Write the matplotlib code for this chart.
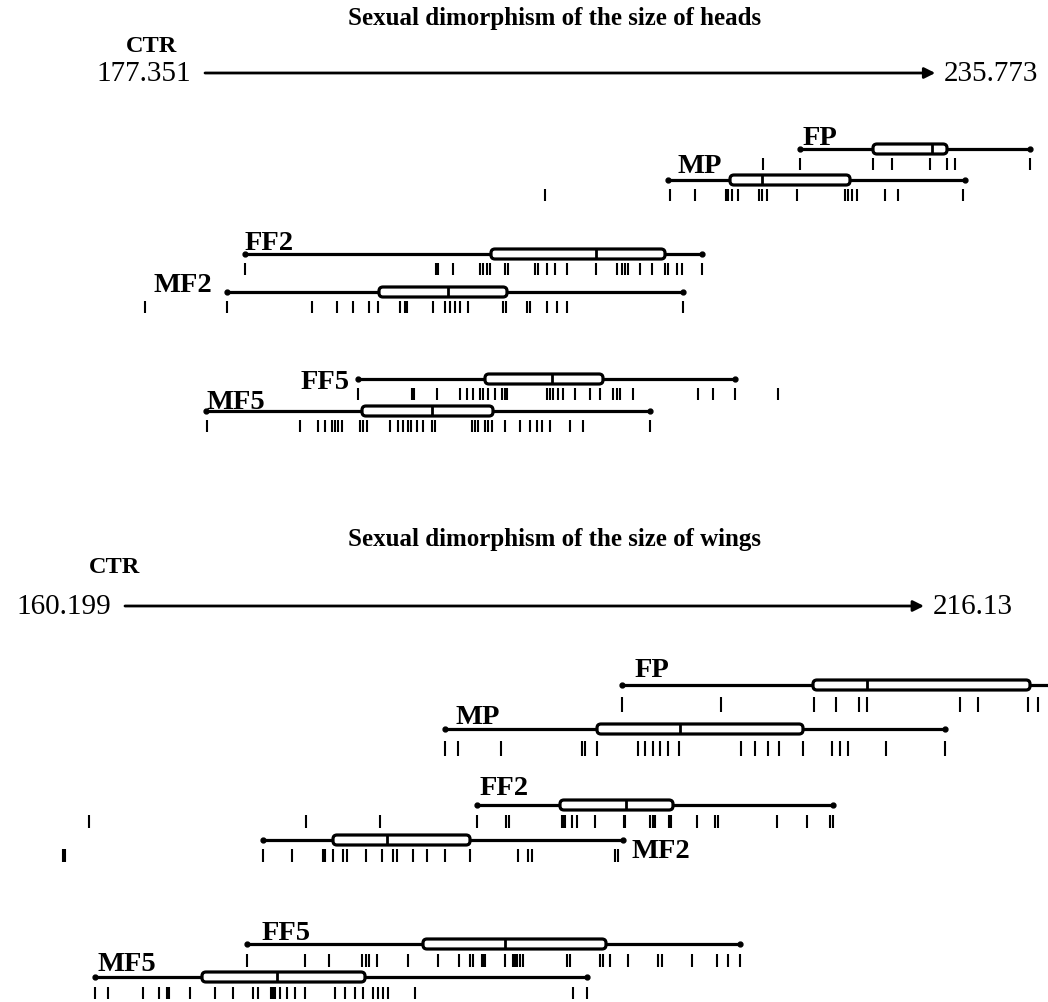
import matplotlib.pyplot as plt
from matplotlib.patches import FancyBboxPatch

plt.rcParams['font.family'] = ['Liberation Serif', 'DejaVu Serif']

## Data: size of heads (CTR axis 177.351 -> 235.773)
head_ctr = (177.351, 235.773)
head_names = ['FP', 'MP', 'FF2', 'MF2', 'FF5', 'MF5']
head_whiskers = [(224.95, 243.35), (214.39, 238.15), (180.55, 217.11),
                 (179.11, 215.59), (189.59, 219.75), (177.43, 212.95)]
# q1, median, q3
head_boxes = [(230.79, 235.51, 236.71), (219.35, 221.91, 228.95), (200.23, 208.63, 214.15),
              (191.27, 196.79, 201.51), (199.75, 205.11, 209.19), (189.91, 195.51, 200.39)]
head_fp_obs = [221.99, 224.95, 230.79, 232.31, 235.35, 236.71, 237.35, 243.35]
head_mp_obs = [204.55, 214.55, 216.55, 219.03, 219.19, 219.51, 219.99, 221.67, 221.91, 222.31,
               224.71, 228.55, 228.79, 229.11, 229.51, 231.75, 232.79, 237.99]
head_ff2_obs = [180.55, 195.83, 195.99, 197.19, 199.35, 199.59, 199.91, 200.15, 201.35, 201.59,
                203.75, 203.99, 204.71, 205.35, 206.31, 208.63, 210.31, 210.71, 210.95, 211.19,
                212.15, 213.11, 214.15, 214.39, 215.11, 215.51, 217.11]
head_mf2_obs = [172.55, 179.11, 185.91, 187.91, 189.19, 190.47, 191.19, 192.95, 193.35, 193.51,
                195.59, 196.55, 196.95, 197.35, 197.75, 198.39, 201.19, 201.43, 203.11, 203.35,
                204.71, 205.51, 206.31, 215.59]
head_ff5_obs = [189.59, 193.91, 194.07, 195.91, 197.75, 198.31, 198.79, 199.35, 199.59, 199.99,
                200.55, 201.11, 201.35, 201.51, 204.71, 204.95, 205.19, 205.59, 205.99, 206.95,
                208.15, 208.95, 209.99, 210.31, 210.55, 211.59, 216.79, 217.99, 219.75, 223.19]
head_mf5_obs = [177.51, 184.95, 186.39, 186.95, 187.51, 187.75, 187.99, 188.31, 189.75, 189.99,
                190.31, 192.15, 192.79, 193.19, 193.59, 193.83, 194.31, 194.79, 195.51, 195.75,
                198.71, 198.95, 199.19, 199.75, 199.99, 200.31, 201.35, 202.55, 203.35, 203.91,
                204.31, 204.95, 206.55, 207.59, 212.95]
head_obs = [head_fp_obs, head_mp_obs, head_ff2_obs, head_mf2_obs, head_ff5_obs, head_mf5_obs]

## Data: size of wings (CTR axis 160.199 -> 216.13)
wing_ctr = (160.199, 216.13)
wing_names = ['FP', 'MP', 'FF2', 'MF2', 'FF5', 'MF5']
wing_whiskers = [(194.99, 225.65), (182.60, 217.60), (184.84, 209.76),
                 (169.86, 195.06), (168.74, 203.25), (158.10, 192.54)]
wing_boxes = [(208.36, 212.14, 223.55), (193.24, 199.05, 207.66), (190.65, 195.27, 198.56),
              (174.76, 178.54, 184.35), (181.06, 186.80, 193.87), (165.59, 170.84, 177.00)]
wing_fp_obs = [194.99, 201.92, 208.43, 209.97, 211.58, 212.14, 218.65, 219.91, 223.41, 224.11]
wing_mp_obs = [182.60, 183.51, 186.52, 192.19, 192.40, 193.24, 196.11, 196.60, 197.16, 197.65,
               198.21, 198.98, 203.32, 204.30, 205.21, 205.98, 207.66, 209.69, 210.25, 210.81,
               213.47, 217.60]
wing_ff2_obs = [157.68, 172.87, 178.05, 184.84, 186.87, 187.08, 190.79, 190.86, 191.00, 191.49,
                191.84, 193.10, 195.13, 195.20, 196.95, 197.16, 197.30, 198.28, 198.42, 200.24,
                201.50, 201.71, 205.84, 207.94, 209.55, 209.76]
wing_mf2_obs = [155.86, 156.00, 169.86, 171.89, 174.06, 174.20, 174.76, 175.46, 175.74, 177.07,
                178.19, 178.96, 179.24, 180.36, 181.34, 182.60, 184.35, 187.71, 188.41, 188.69,
                194.50, 194.71]
wing_ff5_obs = [168.74, 172.80, 174.48, 176.79, 177.07, 177.28, 177.84, 180.01, 182.11, 183.58,
                184.35, 184.56, 185.19, 185.26, 185.40, 186.80, 187.36, 187.50, 187.64, 187.85,
                188.06, 191.14, 191.35, 193.45, 193.66, 194.15, 195.41, 197.51, 197.79, 199.89,
                201.64, 202.41, 203.25]
wing_mf5_obs = [158.10, 159.01, 161.46, 162.58, 163.14, 163.28, 164.75, 166.50, 167.76, 169.16,
                169.51, 170.42, 170.56, 170.70, 171.05, 171.54, 172.10, 172.80, 174.90, 175.60,
                176.30, 176.86, 177.56, 177.91, 178.26, 178.61, 180.50, 191.56, 192.54]
wing_obs = [wing_fp_obs, wing_mp_obs, wing_ff2_obs, wing_mf2_obs, wing_ff5_obs, wing_mf5_obs]

## Layout (figure pixel rows, label anchors)
W, H = 1048, 1003
SPLIT = 462

head_view = (160.95, 244.79)
head_title_y, head_ctr_y, head_arrow_y = 18, 47, 74
head_ctr_x = 173.1
head_row_y = [150, 181, 255, 293, 380, 412]
head_label_x = [225.19, 215.11, 180.55, 177.91, 188.95, 177.51]
head_label_y = [145, 173, 250, 292, 389, 409]
head_label_ha = ['left', 'left', 'left', 'right', 'right', 'left']
head_tick_span = [(9, 21)] * 6

wing_view = (151.45, 224.81)
wing_title_y, wing_ctr_y, wing_arrow_y = 540, 568, 607
wing_ctr_x = 159.5
wing_row_y = [686, 730, 806, 841, 945, 978]
wing_label_x = [195.9, 183.37, 185.05, 195.69, 169.79, 158.24]
wing_label_y = [677, 724, 795, 858, 940, 971]
wing_label_ha = ['left'] * 6
wing_tick_span = [(12, 27), (12, 27), (10, 23), (9, 22), (10, 23), (10, 22)]


def draw_panel(ax, title, ctr, names, whiskers, boxes, obs, view, ylim,
               title_y, ctr_y, arrow_y, ctr_x, row_y, label_x, label_y, label_ha, tick_span):
    ax.set_xlim(*view)
    ax.set_ylim(*ylim)
    ax.axis('off')
    px = (view[1] - view[0]) / W   # data units per pixel, x
    aspect = 1.0 / px

    ax.text(view[0] + 555 * px, title_y, title, ha='center', va='center',
            fontsize=18, fontweight='bold')
    ax.text(ctr_x, ctr_y, 'CTR', ha='center', va='center', fontsize=17.5, fontweight='bold')
    ax.annotate('', xy=(ctr[1], arrow_y), xytext=(ctr[0], arrow_y),
                arrowprops=dict(arrowstyle='-|>', lw=2.0, color='k', mutation_scale=16,
                                shrinkA=0, shrinkB=0))
    ax.annotate(f'{ctr[0]:g}', xy=(ctr[0], arrow_y), xytext=(-10, 0), textcoords='offset points',
                ha='right', va='center', fontsize=21)
    ax.annotate(f'{ctr[1]:g}', xy=(ctr[1], arrow_y), xytext=(6, 0), textcoords='offset points',
                ha='left', va='center', fontsize=21)

    for i, name in enumerate(names):
        y = row_y[i]
        lo, hi = whiskers[i]
        q1, med, q3 = boxes[i]
        ax.plot([lo, hi], [y, y], color='k', lw=2.3, marker='o', ms=3.5, zorder=2)
        box = FancyBboxPatch((q1, y - 5), q3 - q1, 10,
                             boxstyle=f'round,pad=0,rounding_size={4 * px}',
                             mutation_aspect=aspect, fc='white', ec='k', lw=2.3, zorder=3)
        ax.add_patch(box)
        ax.vlines(med, y - 5, y + 5, color='k', lw=2.0, zorder=4)
        t0, t1 = tick_span[i]
        ax.vlines(obs[i], y + t0, y + t1, color='k', lw=1.5)
        ax.text(label_x[i], label_y[i], name, ha=label_ha[i], va='baseline',
                fontsize=20.5, fontweight='bold')


fig = plt.figure(figsize=(W / 100, H / 100), dpi=100)
ax_top = fig.add_axes([0, 1 - SPLIT / H, 1, SPLIT / H])
ax_bot = fig.add_axes([0, 0, 1, 1 - SPLIT / H])

draw_panel(ax_top, 'Sexual dimorphism of the size of heads', head_ctr, head_names,
           head_whiskers, head_boxes, head_obs, head_view, (SPLIT, 0),
           head_title_y, head_ctr_y, head_arrow_y, head_ctr_x, head_row_y,
           head_label_x, head_label_y, head_label_ha, head_tick_span)
draw_panel(ax_bot, 'Sexual dimorphism of the size of wings', wing_ctr, wing_names,
           wing_whiskers, wing_boxes, wing_obs, wing_view, (H, SPLIT),
           wing_title_y, wing_ctr_y, wing_arrow_y, wing_ctr_x, wing_row_y,
           wing_label_x, wing_label_y, wing_label_ha, wing_tick_span)

fig.savefig('out.png', dpi=100)
